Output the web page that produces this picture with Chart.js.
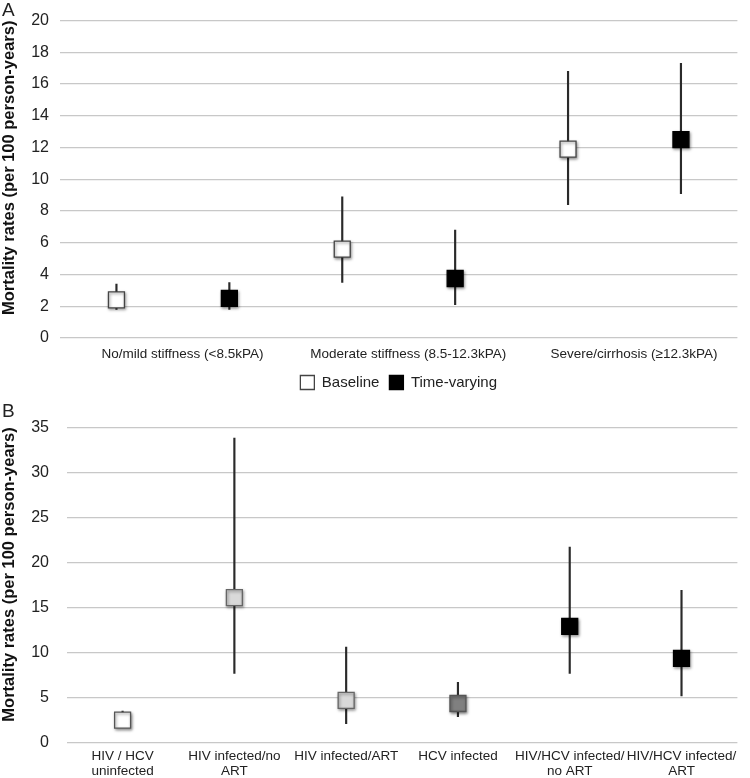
<!DOCTYPE html>
<html><head><meta charset="utf-8">
<script src="https://cdn.jsdelivr.net/npm/chart.js@4.4.1/dist/chart.umd.min.js"></script>
<style>
html,body{margin:0;padding:0;background:#fff;}
body{width:750px;height:778px;position:relative;overflow:hidden;font-family:"Liberation Sans",Arial,sans-serif;}
canvas{position:absolute;left:0;}
#cA{top:0;} #cB{top:400px;}
.pl{position:absolute;left:2px;font-size:19px;color:#222;line-height:1;}
</style></head><body>
<canvas id="cA" width="750" height="400"></canvas>
<canvas id="cB" width="750" height="378"></canvas>
<div class="pl" style="top:0px">A</div>
<div class="pl" style="top:401px">B</div>
<script>
// ---------- Panel A data ----------
const groupsA = ['No/mild stiffness (<8.5kPA)', 'Moderate stiffness (8.5-12.3kPA)', 'Severe/cirrhosis (\u226512.3kPA)'];
const baselineA = [2.4, 5.6, 11.9];
const baselineLoA = [1.8, 3.5, 8.4];
const baselineHiA = [3.4, 8.9, 16.8];
const tvA = [2.5, 3.75, 12.5];
const tvLoA = [1.8, 2.1, 9.1];
const tvHiA = [3.5, 6.8, 17.3];
const seriesNamesA = ['Baseline', 'Time-varying'];
const yTicksA = {min: 0, max: 20, step: 2};

// ---------- Panel B data ----------
const groupsB = [['HIV / HCV', 'uninfected'], ['HIV infected/no', 'ART'], 'HIV infected/ART', 'HCV infected', ['HIV/HCV infected/', 'no ART'], ['HIV/HCV infected/', 'ART']];
const ratesB = [2.5, 16.1, 4.7, 4.35, 12.9, 9.35];
const loB = [1.8, 7.7, 2.1, 2.9, 7.7, 5.2];
const hiB = [3.5, 33.8, 10.6, 6.7, 21.7, 16.9];
const fillB = ['#ffffff', '#d9d9d9', '#d9d9d9', '#808080', '#000000', '#000000'];
const edgeB = ['#555555', '#666666', '#666666', '#555555', '#000000', '#000000'];
const yTicksB = {min: 0, max: 35, step: 5};

Chart.defaults.font.family = '"Liberation Sans", Arial, sans-serif';
Chart.defaults.color = '#222';

const shadowPlugin = {
  id: 'shadow',
  beforeDatasetDraw(chart, args) {
    const ds = chart.data.datasets[args.index];
    if (ds.type === 'line') {
      const c = chart.ctx; c.save();
      c.shadowColor = 'rgba(0,0,0,0.45)'; c.shadowBlur = 3; c.shadowOffsetX = 1; c.shadowOffsetY = 1.5;
    }
  },
  afterDatasetDraw(chart, args) {
    const ds = chart.data.datasets[args.index];
    if (ds.type === 'line') chart.ctx.restore();
  }
};

// Build slotted arrays for panel A (baseline, time-varying alternating)
const slotsA = [];
const baseSlots = [], tvSlots = [], errA = [];
groupsA.forEach((g, i) => {
  slotsA.push(g + ' - ' + seriesNamesA[0], g + ' - ' + seriesNamesA[1]);
  baseSlots.push(baselineA[i], null);
  tvSlots.push(null, tvA[i]);
  errA.push([baselineLoA[i], baselineHiA[i]], [tvLoA[i], tvHiA[i]]);
});

const titleFont = {size: 16.5, weight: 'bold'};

new Chart(document.getElementById('cA'), {
  data: {
    labels: slotsA,
    datasets: [
      {type: 'bar', label: 'err', data: errA, backgroundColor: '#2a2a2a', barThickness: 1.5, order: 3},
      {type: 'line', label: seriesNamesA[0], data: baseSlots, showLine: false, pointStyle: 'rect',
       pointRadius: 11.3, pointHoverRadius: 11.3, backgroundColor: '#ffffff', borderColor: '#444', borderWidth: 1.3, order: 1},
      {type: 'line', label: seriesNamesA[1], data: tvSlots, showLine: false, pointStyle: 'rect',
       pointRadius: 11.3, pointHoverRadius: 11.3, backgroundColor: '#000000', borderColor: '#000', borderWidth: 1.3, order: 2}
    ]
  },
  options: {
    responsive: false, animation: false,
    layout: {padding: {top: 20, right: 9, left: 0, bottom: 0}},
    plugins: {
      tooltip: {enabled: false},
      legend: {
        position: 'bottom', fullSize: false,
        labels: {
          boxWidth: 14, boxHeight: 14, padding: 10, font: {size: 15}, color: '#222',
          filter: (item) => item.text !== 'err'
        }
      }
    },
    scales: {
      x: {
        offset: true,
        grid: {display: false, drawTicks: false}, border: {display: false},
        ticks: {
          autoSkip: false, maxRotation: 0, minRotation: 0, padding: 8, labelOffset: 66,
          font: {size: 13.5}, color: '#222',
          callback: (v, idx) => idx % 2 === 0 ? groupsA[idx / 2] : ''
        },
        afterFit: (s) => { s.height = 27; s.paddingLeft = 0; s.paddingRight = 0; }
      },
      y: {
        min: yTicksA.min, max: yTicksA.max,
        grid: {color: '#c8c8c8', lineWidth: 1.2, drawTicks: false}, border: {display: false},
        ticks: {stepSize: yTicksA.step, padding: 11, font: {size: 16}, color: '#222'},
        title: {display: true, text: 'Mortality rates (per 100 person-years)', font: titleFont, color: '#111', align: 'end', padding: 0},
        afterFit: (s) => { s.width = 60; }
      }
    }
  },
  plugins: [shadowPlugin]
});

const errB = ratesB.map((v, i) => [loB[i], hiB[i]]);

new Chart(document.getElementById('cB'), {
  data: {
    labels: groupsB,
    datasets: [
      {type: 'bar', label: 'err', data: errB, backgroundColor: '#2a2a2a', barThickness: 1.5, order: 2},
      {type: 'line', label: 'rate', data: ratesB, showLine: false, pointStyle: 'rect',
       pointRadius: 11.3, pointHoverRadius: 11.3, pointBackgroundColor: fillB, pointBorderColor: edgeB,
       backgroundColor: fillB, borderColor: edgeB, borderWidth: 1.3, order: 1}
    ]
  },
  options: {
    responsive: false, animation: false,
    layout: {padding: {top: 25.7, right: 3.3, left: 0, bottom: 0}},
    plugins: {tooltip: {enabled: false}, legend: {display: false}},
    scales: {
      x: {
        offset: true,
        grid: {display: false, drawTicks: false}, border: {display: false},
        ticks: {autoSkip: false, maxRotation: 0, minRotation: 0, padding: 6, font: {size: 13.5, lineHeight: 1.1}, color: '#222'},
        afterFit: (s) => { s.height = 35.3; s.paddingLeft = 0; s.paddingRight = 0; }
      },
      y: {
        min: yTicksB.min, max: yTicksB.max,
        grid: {color: '#c8c8c8', lineWidth: 1.2, drawTicks: false}, border: {display: false},
        ticks: {stepSize: yTicksB.step, padding: 17.7, font: {size: 16}, color: '#222'},
        title: {display: true, text: 'Mortality rates (per 100 person-years)', font: titleFont, color: '#111', align: 'end', padding: 0},
        afterFit: (s) => { s.width = 66.7; }
      }
    }
  },
  plugins: [shadowPlugin]
});
</script>
</body></html>
